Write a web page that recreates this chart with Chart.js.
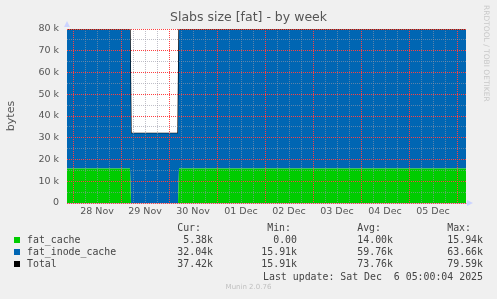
<!DOCTYPE html>
<html lang="en">
<head>
    <meta charset="UTF-8">
    <title>Slabs size [fat] - by week</title>
    <script src="https://cdn.jsdelivr.net/npm/chart.js"></script>
    <style>
        body {
            margin: 0;
            background: #f0f0f0;
            font-family: 'DejaVu Sans', sans-serif;
        }
        .wrap {
            position: relative;
            width: 497px;
            height: 299px;
            overflow: hidden;
        }
        canvas {
            position: absolute;
            left: 0;
            top: 0;
        }
        .legend div {
            position: absolute;
            font-family: 'DejaVu Sans Mono', monospace;
            font-size: 9.9px;
            color: #444;
            white-space: pre;
            line-height: 12px;
        }
        .legend .swatch {
            width: 6px;
            height: 6px;
        }
        .rrd {
            position: absolute;
            left: 482px;
            top: 5px;
            writing-mode: vertical-rl;
            font-size: 7.5px;
            color: #c8c8c8;
            white-space: nowrap;
        }
        .munin {
            position: absolute;
            left: 0;
            width: 497px;
            top: 283px;
            text-align: center;
            font-size: 7px;
            color: #c0c0c0;
        }
        .arrow-up {
            position: absolute;
            left: 64px;
            top: 21px;
            width: 0; height: 0;
            border-left: 3px solid transparent;
            border-right: 3px solid transparent;
            border-bottom: 6px solid #ccd4ff;
        }
        .arrow-right {
            position: absolute;
            left: 467px;
            top: 200px;
            width: 0; height: 0;
            border-top: 3px solid transparent;
            border-bottom: 3px solid transparent;
            border-left: 6px solid #ccd4ff;
        }
    </style>
</head>
<body>
    <div class="wrap">
        <canvas id="slabChart" width="497" height="299"></canvas>
        <div class="arrow-up"></div>
        <div class="arrow-right"></div>
        <div class="rrd">RRDTOOL / TOBI OETIKER</div>
        <div class="legend" id="legend"></div>
        <div class="munin">Munin 2.0.76</div>
    </div>

    <script>
        // hours since 28 Nov 00:00
        const hours = [-3, 28.5, 29, 52.5, 53, 196.5];
        const fatCache = [15910, 15910, 0, 0, 15910, 15910];
        const fatInodeCache = [63660, 63660, 32040, 32040, 63660, 63660];
        const total = [79570, 79570, 32040, 32040, 79570, 79570];

        const dayLabels = ['28 Nov', '29 Nov', '30 Nov', '01 Dec', '02 Dec', '03 Dec', '04 Dec', '05 Dec'];
        const yTicks = [0, 10000, 20000, 30000, 40000, 50000, 60000, 70000, 80000];
        const yTickLabels = ['0', '10 k', '20 k', '30 k', '40 k', '50 k', '60 k', '70 k', '80 k'];

        const seriesNames = ['fat_cache', 'fat_inode_cache', 'Total'];
        const seriesColors = ['#00cc00', '#0066b3', '#000000'];
        const curVals = ['5.38k', '32.04k', '37.42k'];
        const minVals = ['0.00', '15.91k', '15.91k'];
        const avgVals = ['14.00k', '59.76k', '73.76k'];
        const maxVals = ['15.94k', '63.66k', '79.59k'];
        const lastUpdate = 'Last update: Sat Dec  6 05:00:04 2025';

        const pts = arr => hours.map((h, i) => ({ x: h, y: arr[i] }));

        const plotBg = {
            id: 'plotBg',
            beforeDraw(c) {
                const a = c.chartArea;
                c.ctx.save();
                c.ctx.fillStyle = '#ffffff';
                c.ctx.fillRect(a.left, a.top, a.right - a.left, a.bottom - a.top);
                c.ctx.restore();
            }
        };

        const minorGrid = 'rgba(150,150,165,0.6)';
        const majorGrid = '#ff4040';

        // per-tick grid colours: red at midnight / every 10 k, grey otherwise
        const xGridColors = [];
        for (let h = 0; h <= 192; h += 6) xGridColors.push(h % 24 === 0 ? majorGrid : minorGrid);
        const yGridColors = [];
        for (let v = 0; v <= 80000; v += 5000) yGridColors.push(v % 10000 === 0 ? majorGrid : minorGrid);

        new Chart(document.getElementById('slabChart'), {
            type: 'line',
            data: {
                datasets: [
                    {
                        label: seriesNames[0],
                        data: pts(fatCache),
                        backgroundColor: seriesColors[0],
                        borderWidth: 0,
                        fill: 'origin',
                        pointRadius: 0,
                        stack: 'areas'
                    },
                    {
                        label: seriesNames[1],
                        data: pts(fatInodeCache),
                        backgroundColor: seriesColors[1],
                        borderWidth: 0,
                        fill: '-1',
                        pointRadius: 0,
                        stack: 'areas'
                    },
                    {
                        label: seriesNames[2],
                        data: pts(total),
                        borderColor: seriesColors[2],
                        borderWidth: 1.3,
                        fill: false,
                        pointRadius: 0,
                        stack: 'total'
                    }
                ]
            },
            options: {
                responsive: false,
                animation: false,
                events: [],
                layout: { padding: { left: 0, right: 0, top: 0, bottom: 76 } },
                plugins: {
                    legend: { display: false },
                    tooltip: { enabled: false },
                    title: {
                        display: true,
                        text: 'Slabs size [fat] - by week',
                        color: '#555',
                        font: { family: 'DejaVu Sans', size: 12.5, weight: 'normal' },
                        padding: { top: 10, bottom: 4 }
                    }
                },
                scales: {
                    x: {
                        type: 'linear',
                        min: -3,
                        max: 196.5,
                        afterFit: s => { s.height = 20; },
                        afterBuildTicks: s => {
                            const t = [];
                            for (let h = 0; h <= 192; h += 6) t.push({ value: h });
                            s.ticks = t;
                        },
                        grid: {
                            z: 1,
                            drawTicks: false,
                            lineWidth: 1,
                            color: xGridColors
                        },
                        border: { display: true, z: 1, color: 'rgba(180,185,220,0.8)', dash: [1, 1] },
                        ticks: {
                            autoSkip: false,
                            maxRotation: 0,
                            padding: 3,
                            color: '#555',
                            font: { family: 'DejaVu Sans', size: 9.5 },
                            callback: v => (v % 24 === 12) ? dayLabels[(v - 12) / 24] : ''
                        }
                    },
                    y: {
                        stacked: true,
                        min: 0,
                        max: 80000,
                        afterFit: s => { s.width = 67; },
                        border: { display: false, dash: [1, 1] },
                        title: {
                            display: true,
                            text: 'bytes',
                            color: '#555',
                            font: { family: 'DejaVu Sans', size: 11 },
                            padding: { top: 5, bottom: 0 }
                        },
                        grid: {
                            z: 1,
                            drawTicks: false,
                            color: yGridColors
                        },
                        ticks: {
                            stepSize: 5000,
                            autoSkip: false,
                            padding: 8,
                            color: '#555',
                            font: { family: 'DejaVu Sans', size: 9.5 },
                            callback: v => {
                                const i = yTicks.indexOf(v);
                                return i >= 0 ? yTickLabels[i] : '';
                            }
                        }
                    },
                    // empty right-hand axis that only reserves the margin
                    yRight: {
                        position: 'right',
                        display: true,
                        min: 0,
                        max: 80000,
                        afterFit: s => { s.width = 31; },
                        grid: { display: false, drawTicks: false },
                        border: { display: false },
                        ticks: { display: false }
                    }
                }
            },
            plugins: [plotBg]
        });

        // legend below the graph
        const legend = document.getElementById('legend');
        function put(text, left, top, right) {
            const d = document.createElement('div');
            d.textContent = text;
            d.style.top = top + 'px';
            if (right !== undefined) {
                d.style.right = (497 - right) + 'px';
            } else {
                d.style.left = left + 'px';
            }
            legend.appendChild(d);
        }
        put('Cur:', 0, 222, 201);
        put('Min:', 0, 222, 291);
        put('Avg:', 0, 222, 381);
        put('Max:', 0, 222, 471);
        const rowTop = [234, 245.5, 257.5];
        seriesNames.forEach((n, i) => {
            const sw = document.createElement('div');
            sw.className = 'swatch';
            sw.style.left = '14px';
            sw.style.top = (rowTop[i] + 3) + 'px';
            sw.style.background = seriesColors[i];
            legend.appendChild(sw);
            put(n, 27, rowTop[i]);
            put(curVals[i], 0, rowTop[i], 213);
            put(minVals[i], 0, rowTop[i], 297);
            put(avgVals[i], 0, rowTop[i], 393);
            put(maxVals[i], 0, rowTop[i], 483);
        });
        put(lastUpdate, 0, 271, 483);
    </script>
</body>
</html>
